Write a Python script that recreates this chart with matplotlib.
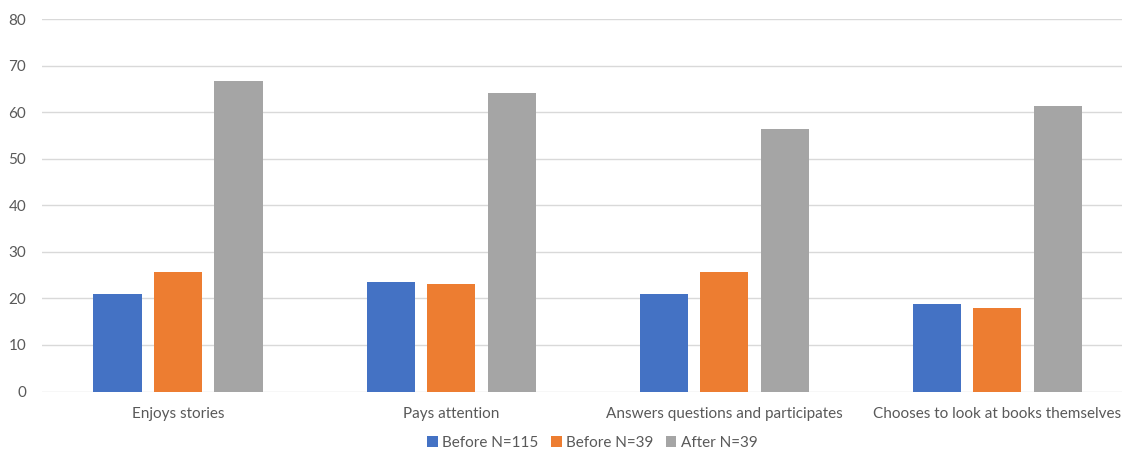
import matplotlib
matplotlib.use("Agg")
import matplotlib.pyplot as plt
import numpy as np

categories = ["Enjoys stories", "Pays attention", "Answers questions and participates",
              "Chooses to look at books themselves"]
series_names = ["Before N=115", "Before N=39", "After N=39"]
before_115 = [20.9, 23.5, 20.9, 18.9]
before_39 = [25.6, 23.1, 25.6, 17.9]
after_39 = [66.7, 64.1, 56.4, 61.5]
yticks = [0, 10, 20, 30, 40, 50, 60, 70, 80]

colors = ["#4472C4", "#ED7D31", "#A5A5A5"]
text_color = "#595959"

plt.rcParams["font.family"] = ["Lato", "DejaVu Sans"]

fig = plt.figure(figsize=(11.22, 4.5), dpi=100)
ax = fig.add_axes([0.037, 0.13, 0.9733, 0.8267])

x = np.arange(len(categories))
width = 0.176
step = 0.2216
for i, (vals, name) in enumerate(zip([before_115, before_39, after_39], series_names)):
    ax.bar(x + (i - 1) * step, vals, width=width, color=colors[i], label=name, zorder=3)

ax.set_xlim(-0.5, len(categories) - 0.5)
ax.set_ylim(0, 80)
ax.set_yticks(yticks)
ax.set_xticks(x)
ax.set_xticklabels(categories)
ax.tick_params(axis="both", length=0, labelsize=11, colors=text_color)
ax.tick_params(axis="x", pad=11)
ax.tick_params(axis="y", pad=11)
ax.grid(axis="y", color="#D9D9D9", linewidth=1, zorder=0)
for s in ax.spines.values():
    s.set_visible(False)

leg = fig.legend(loc="center", bbox_to_anchor=(0.528, 0.016), ncol=3, frameon=False,
                 fontsize=11, handlelength=0.7, handleheight=0.7, handletextpad=0.3,
                 columnspacing=0.8, borderpad=0)
for t in leg.get_texts():
    t.set_color(text_color)

fig.savefig("out.png", dpi=100)
